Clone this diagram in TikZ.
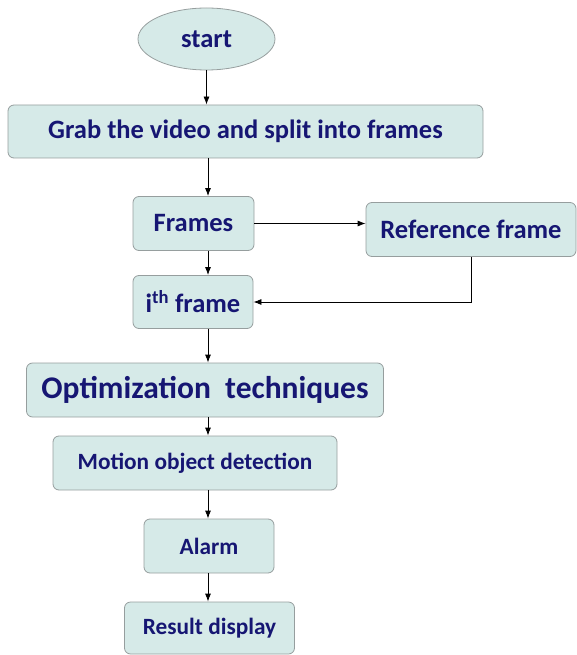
\documentclass[tikz,border=0pt]{standalone}
\usepackage{fontspec}
\setmainfont{Carlito}
\usetikzlibrary{arrows.meta,shapes.geometric}

\definecolor{boxfill}{RGB}{214,234,232}
\definecolor{boxline}{RGB}{150,158,158}
\definecolor{boxtext}{RGB}{22,22,115}

\tikzset{
	stage/.style={draw=boxline, fill=boxfill, rounded corners=6pt, line width=0.8pt,
		text=boxtext, font=\bfseries\fontsize{26.5}{28}\selectfont, inner sep=0pt},
	small/.style={font=\bfseries\fontsize{23.3}{25}\selectfont},
	flow/.style={-{Latex[length=8pt,width=6pt]}, line width=0.8pt}
}

\begin{document}
\begin{tikzpicture}[x=1pt,y=1pt]
	\useasboundingbox (0,0) rectangle (577,-655);
	\coordinate (axis) at (208,0);

	\node[stage, ellipse, minimum width=137pt, minimum height=62pt] (start) at (206.5,-39) {start};
	\node[stage, minimum width=475pt, minimum height=53pt] (grab) at (245.5,-131.5) {Grab the video and split into frames};
	\node[stage, minimum width=121pt, minimum height=54pt] (frames) at (193.5,-223.5) {Frames};
	\node[stage, minimum width=210pt, minimum height=54pt] (ref) at (471,-229.5) {Reference frame};
	\node[stage, minimum width=120pt, minimum height=53pt] (ith) at (193,-302) {i\textsuperscript{th} frame};
	\node[stage, minimum width=357pt, minimum height=54pt, font=\bfseries\fontsize{31.5}{33}\selectfont] (opt) at (205,-390) {Optimization~~techniques};
	\node[stage, small, minimum width=284pt, minimum height=54pt] (motion) at (195,-463) {Motion object detection};
	\node[stage, small, minimum width=130pt, minimum height=54pt] (alarm) at (209,-546) {Alarm};
	\node[stage, small, minimum width=170pt, minimum height=52pt] (result) at (209.5,-628) {Result display};

	\draw[flow] (start.south) -- (start.south |- grab.north);
	\draw[flow] (grab.south -| axis) -- (frames.north -| axis);
	\draw[flow] (frames.east) -- (frames.east -| ref.west);
	\draw[flow] (frames.south -| axis) -- (ith.north -| axis);
	\draw[flow] (ref.south) |- (ith.east);
	\draw[flow] (ith.south -| axis) -- (opt.north -| axis);
	\draw[flow] (opt.south -| axis) -- (motion.north -| axis);
	\draw[flow] (motion.south -| axis) -- (alarm.north -| axis);
	\draw[flow] (alarm.south -| axis) -- (result.north -| axis);
\end{tikzpicture}
\end{document}
